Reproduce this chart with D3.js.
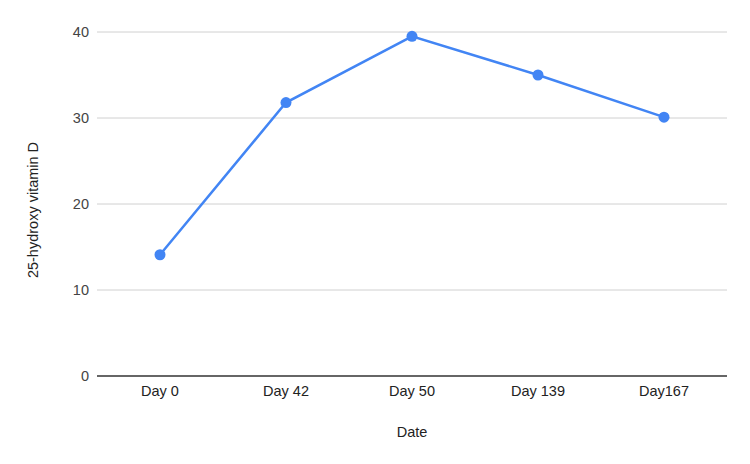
<!DOCTYPE html>
<html>
<head>
<meta charset="utf-8">
<script src="https://cdn.jsdelivr.net/npm/d3@7"></script>
<style>
  body { margin: 0; background: #fff; }
  text { font-family: "Liberation Sans", Arial, sans-serif; }
</style>
</head>
<body>
<svg id="chart" width="750" height="464"></svg>
<script>
const days = ["Day 0", "Day 42", "Day 50", "Day 139", "Day167"];
const vitaminD = [14.1, 31.8, 39.5, 35.0, 30.1];
const yTicks = [0, 10, 20, 30, 40];

const svg = d3.select("#chart");
const plotL = 97, plotR = 727, plotT = 32, plotB = 376;

const x = d3.scalePoint().domain(days).range([plotL, plotR]).padding(0.5);
const y = d3.scaleLinear().domain([0, 40]).range([plotB, plotT]);

// gridlines
svg.append("g")
  .selectAll("line")
  .data(yTicks.filter(d => d > 0))
  .join("line")
  .attr("x1", plotL).attr("x2", plotR)
  .attr("y1", d => y(d)).attr("y2", d => y(d))
  .attr("stroke", "#d0d0d0")
  .attr("stroke-width", 1);

// y tick labels
svg.append("g")
  .selectAll("text")
  .data(yTicks)
  .join("text")
  .attr("x", plotL - 8)
  .attr("y", d => y(d))
  .attr("dy", "0.35em")
  .attr("text-anchor", "end")
  .attr("font-size", 14.5)
  .attr("fill", "#444")
  .text(d => d);

// baseline
svg.append("line")
  .attr("x1", plotL).attr("x2", plotR)
  .attr("y1", y(0)).attr("y2", y(0))
  .attr("stroke", "#333")
  .attr("stroke-width", 1.5);

// x tick labels
svg.append("g")
  .selectAll("text")
  .data(days)
  .join("text")
  .attr("x", d => x(d))
  .attr("y", plotB + 20)
  .attr("text-anchor", "middle")
  .attr("font-size", 14.5)
  .attr("fill", "#222")
  .text(d => d);

// axis titles
svg.append("text")
  .attr("x", (plotL + plotR) / 2)
  .attr("y", 437)
  .attr("text-anchor", "middle")
  .attr("font-size", 14.5)
  .attr("fill", "#222")
  .text("Date");

svg.append("text")
  .attr("transform", `translate(38,210) rotate(-90)`)
  .attr("text-anchor", "middle")
  .attr("font-size", 14.5)
  .attr("fill", "#222")
  .text("25-hydroxy vitamin D");

// line + points
const line = d3.line()
  .x((d, i) => x(days[i]))
  .y(d => y(d));

svg.append("path")
  .datum(vitaminD)
  .attr("fill", "none")
  .attr("stroke", "#4285F4")
  .attr("stroke-width", 2.5)
  .attr("d", line);

svg.append("g")
  .selectAll("circle")
  .data(vitaminD)
  .join("circle")
  .attr("cx", (d, i) => x(days[i]))
  .attr("cy", d => y(d))
  .attr("r", 5.5)
  .attr("fill", "#4285F4");
</script>
</body>
</html>
